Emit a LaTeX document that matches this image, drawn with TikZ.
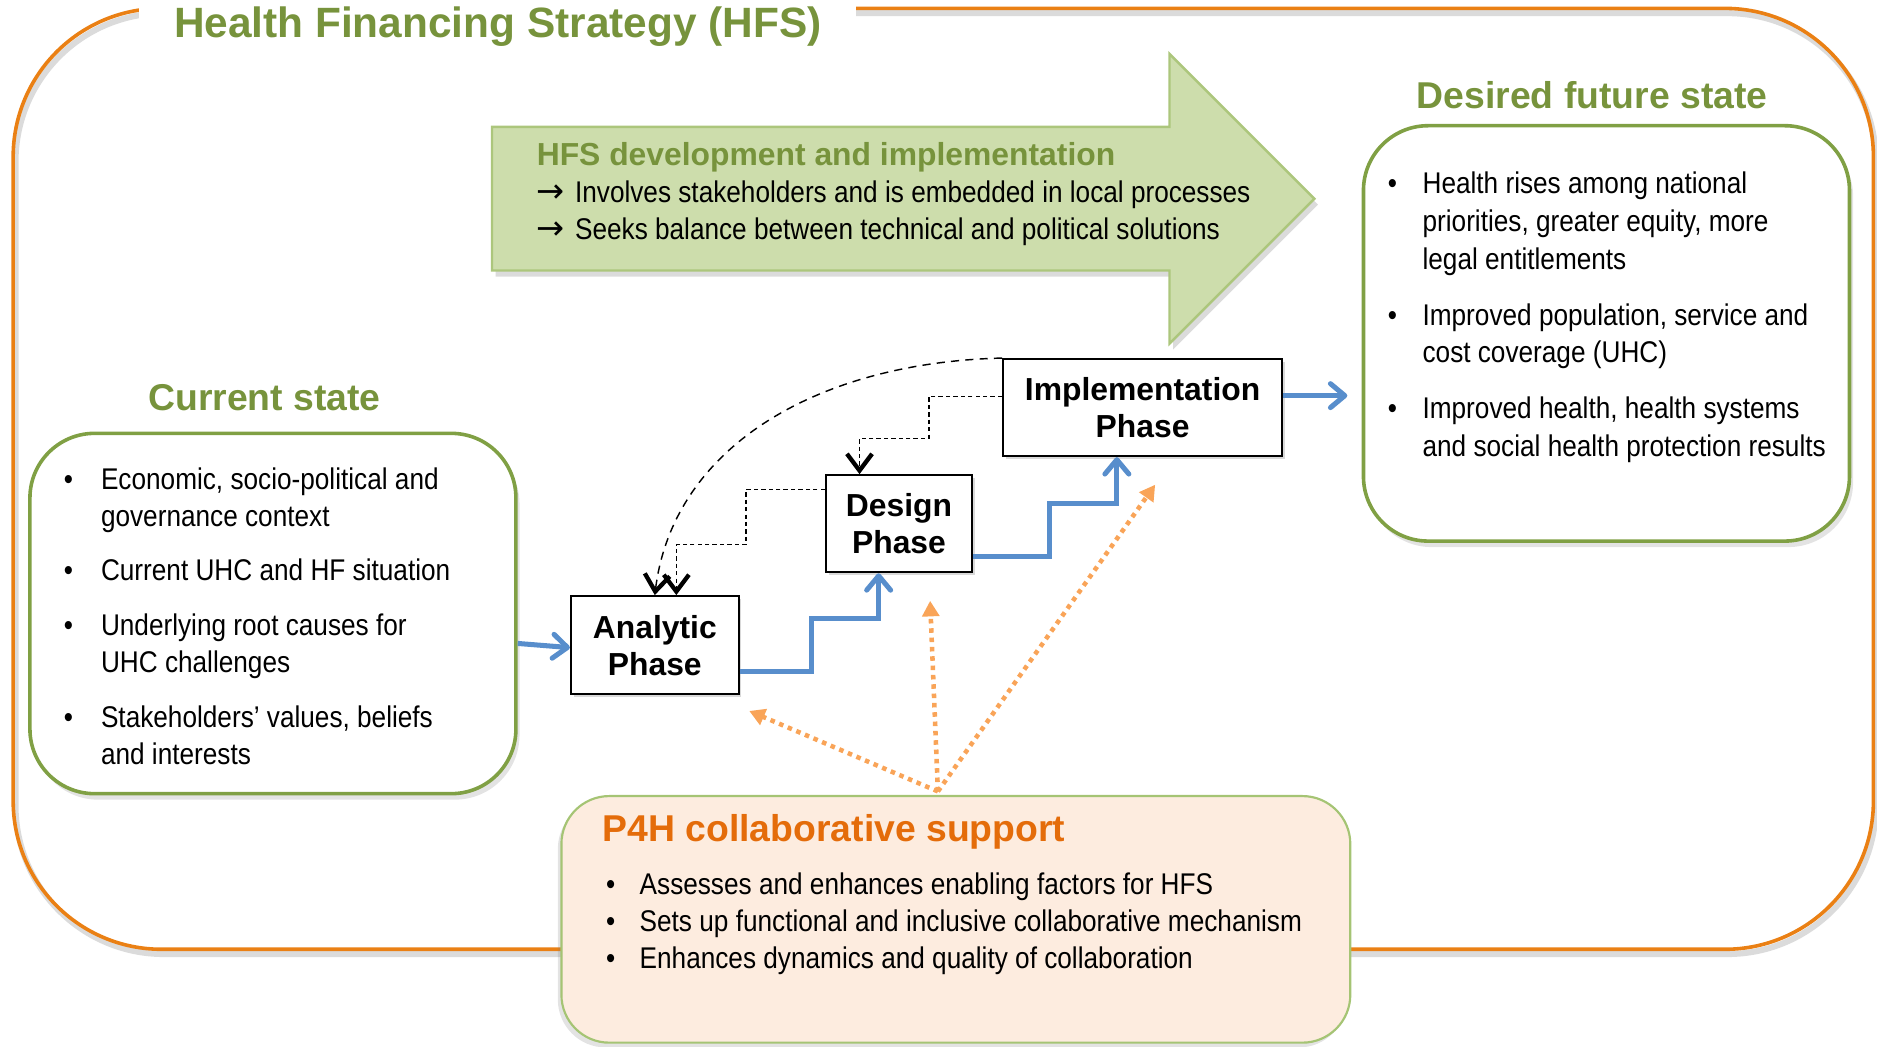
\documentclass[tikz,border=0pt]{standalone}
\usepackage{fontspec}
\setmainfont{Liberation Sans}
\newfontfamily\hfsnarrow{Liberation Sans}[FakeStretch=0.875]
\newfontfamily\hfsarrowfont{DejaVu Sans}
\usetikzlibrary{arrows.meta,shadows}

\definecolor{hfsgreen}{RGB}{119,147,60}
\definecolor{boxgreen}{RGB}{128,160,68}
\definecolor{arrowfill}{RGB}{205,221,172}
\definecolor{arrowborder}{RGB}{172,198,124}
\definecolor{outerorange}{RGB}{234,128,20}
\definecolor{p4hfill}{RGB}{253,236,223}
\definecolor{p4hborder}{RGB}{165,196,116}
\definecolor{p4horange}{RGB}{228,108,10}
\definecolor{stepblue}{RGB}{88,142,204}
\definecolor{dotorange}{RGB}{249,164,88}

\newcommand\hfsbody{\hfsnarrow\fontsize{12.5pt}{15.5pt}\selectfont}
\newcommand\hfsbodyb{\hfsnarrow\fontsize{12.5pt}{15.75pt}\selectfont}
\newcommand\hfshead{\bfseries\fontsize{15.6pt}{18pt}\selectfont}
\newcommand\hfsphase{\bfseries\fontsize{13.3pt}{15.5pt}\selectfont}
\newcommand\hfstitle{\bfseries\fontsize{17.7pt}{20pt}\selectfont}
\newcommand\bulA{\makebox[15.5pt][l]{•}}
\newcommand\indA{\hspace*{15.5pt}}
\newcommand\bulB{\makebox[14.5pt][l]{•}}
\newcommand\indB{\hspace*{14.5pt}}
\newcommand\bulC{\makebox[14pt][l]{•}}
\newcommand\hfsarr{\makebox[16pt][l]{\hfsarrowfont\fontsize{14pt}{15.5pt}\selectfont →}}

\tikzset{
  phasebox/.style={draw=black, line width=0.9pt, fill=white, align=center,
    inner sep=0pt, font=\hfsphase,
    drop shadow={shadow xshift=1.2pt, shadow yshift=-1.2pt, opacity=0.3}},
  greenbox/.style={draw=boxgreen, line width=1.5pt, rounded corners=27pt, fill=white,
    inner sep=0pt,
    drop shadow={shadow xshift=1.5pt, shadow yshift=-2.5pt, opacity=0.22}},
  p4hbox/.style={draw=p4hborder, line width=0.9pt, rounded corners=20pt, fill=p4hfill,
    inner sep=0pt,
    drop shadow={shadow xshift=-1.5pt, shadow yshift=-2pt, opacity=0.22}},
  headtext/.style={font=\hfshead, text=hfsgreen, inner sep=0pt},
  listtext/.style={font=\hfsbody, align=left, inner sep=0pt, anchor=base west},
  bluestep/.style={draw=stepblue, line width=2.1pt, line join=miter,
    -{Straight Barb[length=6pt,width=10pt,round]}},
  curvearrow/.style={draw=black, line width=0.6pt, dash pattern=on 3.4pt off 2.6pt,
    -{Straight Barb[length=7pt,width=10.5pt,line width=1.8pt]}},
  stepdots/.style={draw=black, line width=0.5pt, dash pattern=on 1.8pt off 1.3pt,
    -{Straight Barb[length=7pt,width=10.5pt,line width=1.8pt]}},
  dotarrow/.style={draw=dotorange, line width=1.9pt, dash pattern=on 1.9pt off 2pt,
    -{Triangle[length=6.5pt,width=7pt]}}
}

\begin{document}
\begin{tikzpicture}[x=0.5pt,y=-0.5pt]
\useasboundingbox (0,0) rectangle (1568,874);

% outer frame
\draw[black!14, line width=2.5pt, rounded corners=62pt, shift={(2,4)}] (11,7) rectangle (1565,793);
\draw[outerorange, line width=1.5pt, rounded corners=62pt] (11,7) rectangle (1565,793);
\node[font=\hfstitle, text=hfsgreen, fill=white, anchor=base west,
      inner xsep=14.5pt, inner ysep=4pt] (title) at (116,31) {Health Financing Strategy (HFS)};

% big green arrow
\fill[black!14, shift={(3,5)}] (411,106) -- (977,106) -- (977,45) -- (1098,166)
   -- (977,287) -- (977,226) -- (411,226) -- cycle;
\filldraw[fill=arrowfill, draw=arrowborder, line width=1pt] (411,106) -- (977,106) -- (977,45)
   -- (1098,166) -- (977,287) -- (977,226) -- (411,226) -- cycle;
\node[font=\hfsphase, text=hfsgreen, inner sep=0pt, anchor=base west] (hfshead) at (448,138)
   {HFS development and implementation};
\node[listtext] (hfslist) at (448,200)
   {\hfsarr Involves stakeholders and is embedded in local processes\\
    \hfsarr Seeks balance between technical and political solutions};

% current state
\node[headtext, anchor=base] (curhead) at (221,343) {Current state};
\node[greenbox, minimum width=203pt, minimum height=150.5pt] (curbox) at (228,512.5) {};
\node[listtext] (curlist) at (53,639)
   {\bulA Economic, socio-political and\\
    \indA governance context\\[7pt]
    \bulA Current UHC and HF situation\\[7.5pt]
    \bulA Underlying root causes for\\
    \indA UHC challenges\\[7.5pt]
    \bulA Stakeholders’ values, beliefs\\
    \indA and interests};

% desired future state
\node[headtext, anchor=base] (deshead) at (1330,91) {Desired future state};
\node[greenbox, minimum width=203pt, minimum height=173.5pt] (desbox) at (1342,278.5) {};
\node[listtext, font=\hfsbodyb] (deslist) at (1159,381)
   {\bulB Health rises among national\\
    \indB priorities, greater equity, more\\
    \indB legal entitlements\\[7.5pt]
    \bulB Improved population, service and\\
    \indB cost coverage (UHC)\\[7.5pt]
    \bulB Improved health, health systems\\
    \indB and social health protection results};

% P4H box
\node[p4hbox, minimum width=329.5pt, minimum height=103pt] (p4hbox) at (798.5,768) {};
\node[headtext, text=p4horange, anchor=base west] (p4hhead) at (503,703) {P4H collaborative support};
\node[listtext] (p4hlist) at (506,809)
   {\bulC Assesses and enhances enabling factors for HFS\\
    \bulC Sets up functional and inclusive collaborative mechanism\\
    \bulC Enhances dynamics and quality of collaboration};

% phases
\node[phasebox, minimum width=70pt, minimum height=41pt] (analytic) at (547,539) {Analytic\\Phase};
\node[phasebox, minimum width=61pt, minimum height=40.5pt] (design) at (751,437.5) {Design\\Phase};
\node[phasebox, minimum width=116.5pt, minimum height=40.5pt] (impl) at (954.5,340.5) {Implementation\\Phase};

% blue connectors
\draw[bluestep] ([yshift=-12.5pt]curbox.east) -- ([yshift=-1pt]analytic.west);
\draw[bluestep] ([yshift=-11pt]analytic.east) -| ++(60,-44) -| ([xshift=-8.5pt]design.south);
\draw[bluestep] ([yshift=-13.75pt]design.east) -| ++(64,-44) -| ([xshift=-10.75pt]impl.south);
\draw[bluestep] ([yshift=5pt]impl.east) -- ([xshift=-6pt,yshift=-26pt]desbox.west);

% black dashed feedback connectors
\draw[curvearrow] (impl.north west) .. controls (680,303) and (562,375) .. (analytic.north);
\draw[stepdots] ([yshift=4.75pt]impl.west) -| ++(-61,35) -| ([xshift=-16.5pt]design.north);
\draw[stepdots] ([yshift=14.25pt]design.west) -| ++(-66,46) -| ([xshift=9pt]analytic.north);

% orange dotted support arrows
\coordinate (p4hsrc) at ([xshift=-7.5pt,yshift=1.5pt]p4hbox.north);
\coordinate (tana) at ([xshift=4pt,yshift=-6.5pt]analytic.south east);
\coordinate (tdes) at ([xshift=13pt,yshift=-11.5pt]design.south);
\coordinate (timp) at ([xshift=5.25pt,yshift=-11.5pt]impl.south);
\draw[dotarrow] (p4hsrc) -- (tana);
\draw[dotarrow] (p4hsrc) -- (tdes);
\draw[dotarrow] (p4hsrc) -- (timp);
\end{tikzpicture}
\end{document}
